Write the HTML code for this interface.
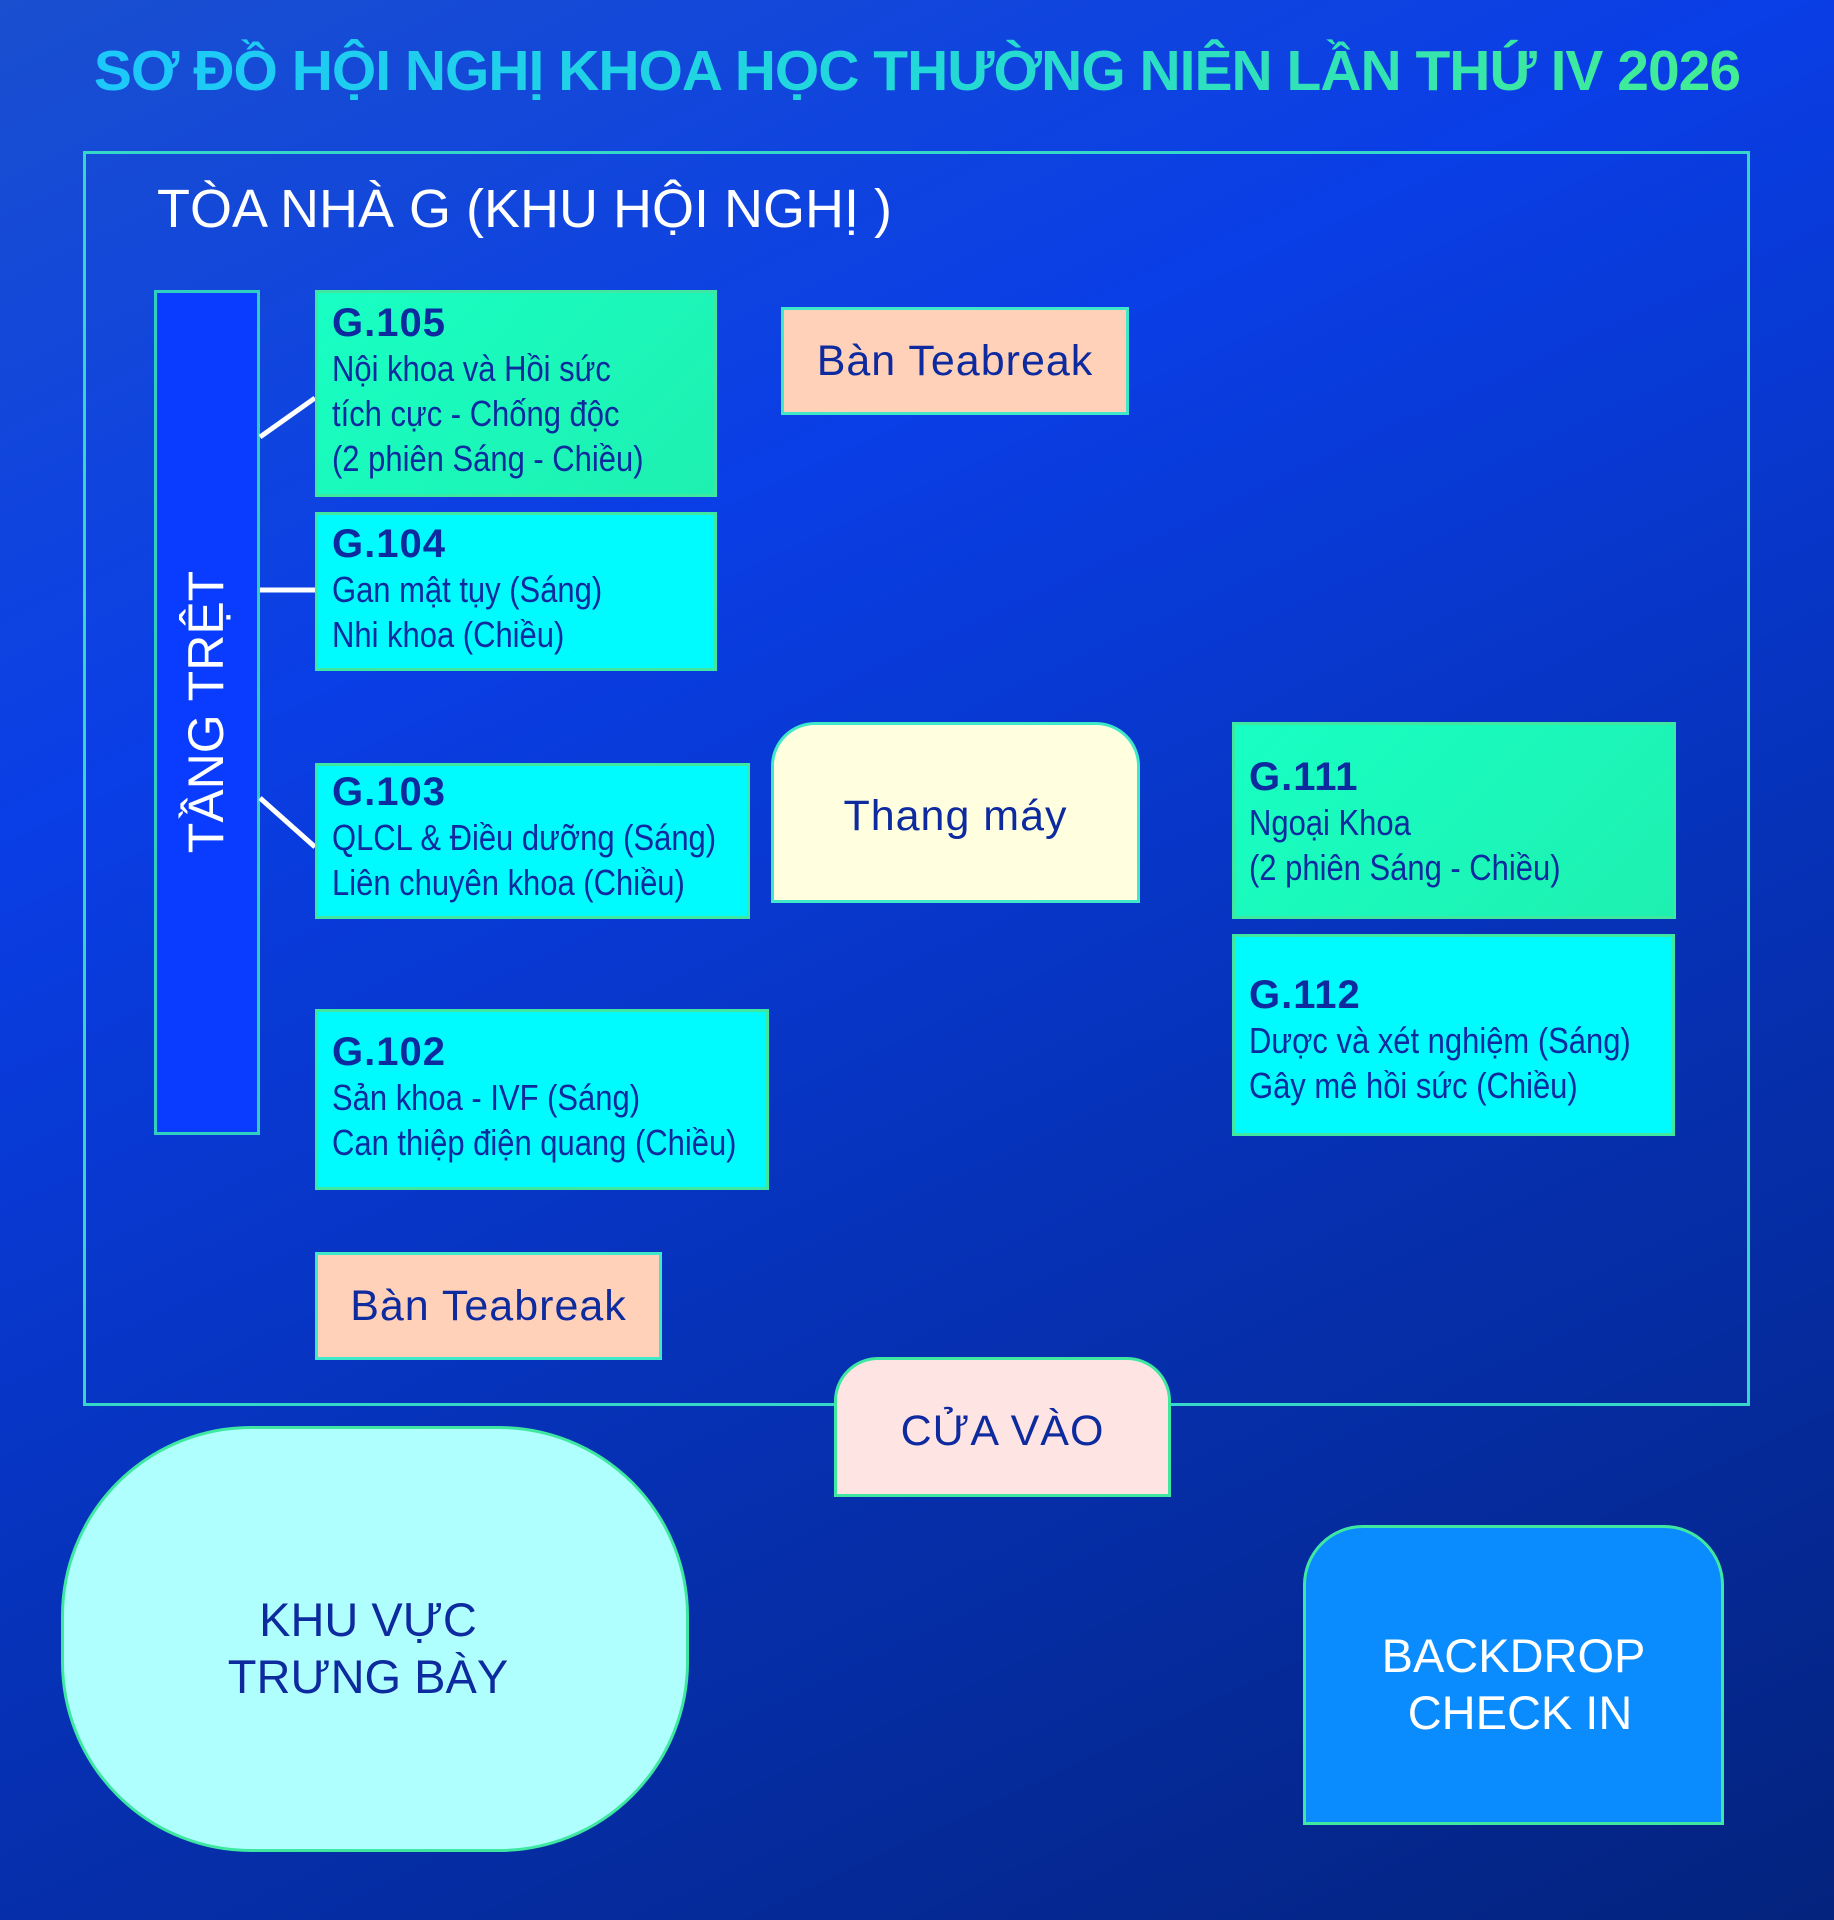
<!DOCTYPE html>
<html><head><meta charset="utf-8"><style>
*{margin:0;padding:0;box-sizing:border-box}
body{width:1834px;height:1920px;position:relative;overflow:hidden;font-family:"Liberation Sans",sans-serif;
background:linear-gradient(155deg,#1a4fd0 0%,#0a3ee6 30%,#0632b8 60%,#04237e 100%);}
.a{position:absolute}
.title{left:0;width:1834px;top:38px;text-align:center;font-size:57px;font-weight:bold;letter-spacing:-1px;
background:linear-gradient(90deg,#1cc6ff,#22d8d8 50%,#46f08a);-webkit-background-clip:text;background-clip:text;color:transparent;white-space:nowrap}
.box{position:absolute;border:3px solid #3ee8a0;color:#0d2a9e;padding-left:14px}
.box .t{font-weight:bold;font-size:40px;line-height:46px;letter-spacing:1px}
.box .b{font-size:36px;line-height:45px;white-space:nowrap;transform:scaleX(0.86);transform-origin:0 0}
.green{background:linear-gradient(135deg,#18ffc4,#1ef0b0)}
.cyan{background:#00fbff}
.tea{position:absolute;background:#ffd1b8;border:3px solid #3ee8c8;color:#0d2a9e;font-size:43px;display:flex;align-items:center;justify-content:center;letter-spacing:1px}
</style></head><body>
<div class="a title">SƠ ĐỒ HỘI NGHỊ KHOA HỌC THƯỜNG NIÊN LẦN THỨ IV 2026</div>
<div class="a" style="left:83px;top:151px;width:1667px;height:1255px;border:3px solid #35d8c8"></div>
<div class="a" style="left:157px;top:178px;color:#fff;font-size:54px;white-space:nowrap">TÒA NHÀ G (KHU HỘI NGHỊ )</div>

<div class="a" style="left:154px;top:290px;width:106px;height:845px;background:#0a3cff;border:3px solid #2fd0c0"></div>
<div class="a" style="left:206px;top:712px;transform:translate(-50%,-50%) rotate(-90deg);color:#fff;font-size:50px;white-space:nowrap">TẦNG TRỆT</div>

<svg class="a" style="left:0;top:0" width="1834" height="1920">
<line x1="260" y1="437" x2="315" y2="398" stroke="#fff" stroke-width="5"/>
<line x1="260" y1="590" x2="315" y2="590" stroke="#fff" stroke-width="5"/>
<line x1="260" y1="798" x2="315" y2="847" stroke="#fff" stroke-width="5"/>
</svg>

<div class="box green" style="left:315px;top:290px;width:402px;height:207px;padding-top:7px">
<div class="t">G.105</div><div class="b">Nội khoa và Hồi sức<br>tích cực - Chống độc<br>(2 phiên Sáng - Chiều)</div></div>
<div class="box cyan" style="left:315px;top:512px;width:402px;height:159px;padding-top:6px">
<div class="t">G.104</div><div class="b">Gan mật tụy (Sáng)<br>Nhi khoa (Chiều)</div></div>
<div class="box cyan" style="left:315px;top:763px;width:435px;height:156px;padding-top:3px">
<div class="t">G.103</div><div class="b">QLCL &amp; Điều dưỡng (Sáng)<br>Liên chuyên khoa (Chiều)</div></div>
<div class="box cyan" style="left:315px;top:1009px;width:454px;height:181px;padding-top:17px">
<div class="t">G.102</div><div class="b">Sản khoa - IVF (Sáng)<br>Can thiệp điện quang (Chiều)</div></div>
<div class="box green" style="left:1232px;top:722px;width:444px;height:197px;padding-top:29px">
<div class="t">G.111</div><div class="b">Ngoại Khoa<br>(2 phiên Sáng - Chiều)</div></div>
<div class="box cyan" style="left:1232px;top:934px;width:443px;height:202px;padding-top:35px">
<div class="t">G.112</div><div class="b">Dược và xét nghiệm (Sáng)<br>Gây mê hồi sức (Chiều)</div></div>

<div class="tea" style="left:781px;top:307px;width:348px;height:108px">Bàn Teabreak</div>
<div class="tea" style="left:315px;top:1252px;width:347px;height:108px">Bàn Teabreak</div>

<div class="a" style="left:771px;top:722px;width:369px;height:181px;background:#ffffe0;border:3px solid #3ee8c8;border-radius:44px 44px 0 0;display:flex;align-items:center;justify-content:center;color:#0d2a9e;font-size:43px;letter-spacing:1px;padding-top:8px">Thang máy</div>
<div class="a" style="left:834px;top:1357px;width:337px;height:140px;background:#ffe4e4;border:3px solid #3ee8a0;border-radius:44px 44px 0 0;display:flex;align-items:center;justify-content:center;color:#0d2a9e;font-size:43px;letter-spacing:1px;padding-top:8px">CỬA VÀO</div>

<div class="a" style="left:61px;top:1426px;width:628px;height:426px;background:#b0ffff;border:3px solid #3ee8a0;border-radius:190px;display:flex;align-items:center;justify-content:center;text-align:center;color:#0d2a9e;font-size:47px;line-height:57px;padding-top:18px;padding-right:14px">KHU VỰC<br>TRƯNG BÀY</div>
<div class="a" style="left:1303px;top:1525px;width:421px;height:300px;background:#0a8cff;border:3px solid #3ee8a0;border-radius:60px 60px 0 0;display:flex;align-items:center;justify-content:center;text-align:center;color:#fff;font-size:47px;line-height:57px;padding-top:18px">BACKDROP<br>&nbsp;CHECK IN</div>
</body></html>
